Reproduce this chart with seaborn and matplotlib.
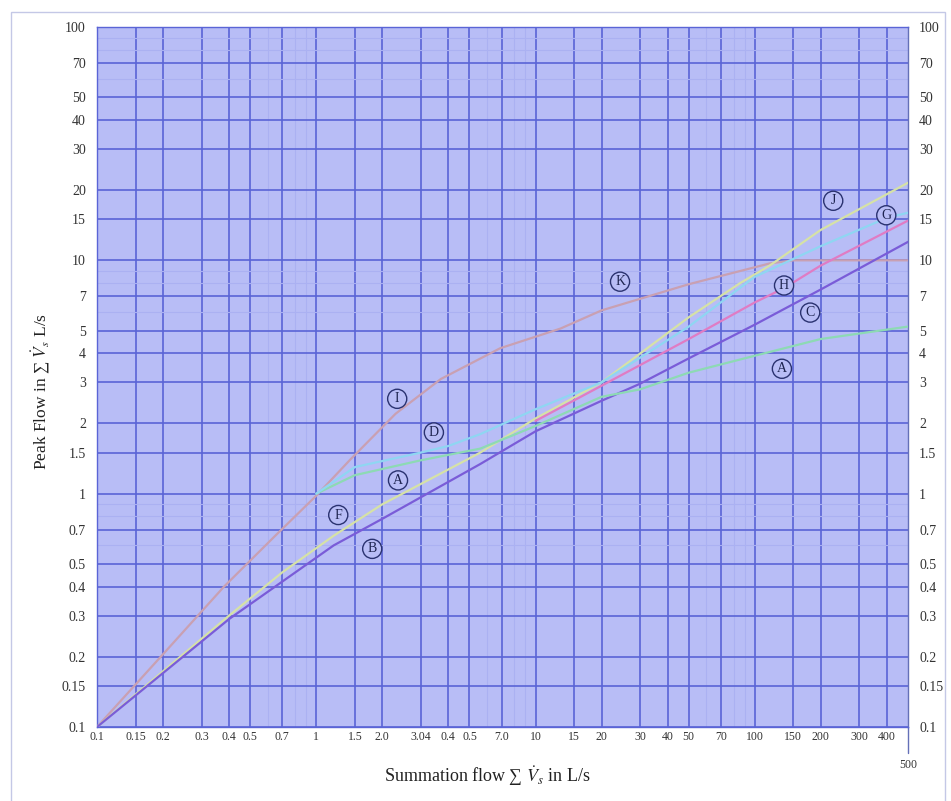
import numpy as np
import pandas as pd
import matplotlib
matplotlib.use("Agg")
import matplotlib.pyplot as plt
from matplotlib.patches import Rectangle
from matplotlib.lines import Line2D
import seaborn as sns

# ---------------- data ----------------
k_x = [0.1, 0.2, 0.38, 0.65, 1.0, 1.43, 2.3, 3.7, 6.9, 13, 20, 50, 117, 150, 500]
k_y = [0.1, 0.205, 0.4, 0.66, 0.98, 1.4, 2.2, 3.1, 4.2, 5.1, 6.1, 7.9, 9.7, 10, 10]

f_x = [0.1, 0.4, 0.7, 1.2, 2, 5.6, 10, 13, 20, 50, 86, 117, 200, 500]
f_y = [0.1, 0.3, 0.46, 0.66, 0.9, 1.5, 2.1, 2.4, 3.0, 5.7, 8.0, 9.5, 13.5, 21.5]

b_x = [0.1, 0.4, 0.7, 1.2, 2, 5.6, 10, 20, 30, 50, 100, 200, 500]
b_y = [0.1, 0.29, 0.42, 0.6, 0.78, 1.34, 1.85, 2.5, 2.96, 3.8, 5.3, 7.5, 12.0]

a_x = [1, 1.5, 3, 5.6, 10, 20, 30, 50, 100, 200, 500]
a_y = [1.0, 1.2, 1.39, 1.56, 1.95, 2.6, 2.8, 3.3, 3.9, 4.6, 5.2]

d_x = [1, 1.5, 3, 4, 5.6, 10, 20, 50, 100, 200, 400, 500]
d_y = [1.0, 1.3, 1.5, 1.6, 1.8, 2.3, 3.0, 5.2, 8.5, 11.5, 15.2, 16.0]

h_x = [10, 20, 50, 100, 136, 200, 500]
h_y = [2.05, 2.9, 4.6, 6.6, 7.6, 9.5, 14.8]

label_text = ["K", "I", "D", "A", "F", "B", "J", "G", "H", "C", "A"]
label_x = [24.3, 2.34, 3.44, 2.36, 1.26, 1.80, 228, 398, 136, 179, 133]
label_y = [8.1, 2.55, 1.83, 1.14, 0.81, 0.58, 18.0, 15.6, 7.8, 5.97, 3.43]

x_ticks = [0.1, 0.15, 0.2, 0.3, 0.4, 0.5, 0.7, 1, 1.5, 2, 3, 4, 5, 7, 10, 15, 20,
           30, 40, 50, 70, 100, 150, 200, 300, 400]
x_tick_labels = ["0.1", "0.15", "0.2", "0.3", "0.4", "0.5", "0.7", "1", "1.5", "2.0",
                 "3.04", "0.4", "0.5", "7.0", "10", "15", "20", "30", "40", "50", "70",
                 "100", "150", "200", "300", "400"]
y_ticks = [0.1, 0.15, 0.2, 0.3, 0.4, 0.5, 0.7, 1, 1.5, 2, 3, 4, 5, 7, 10, 15, 20,
           30, 40, 50, 70, 100]
y_tick_labels = ["0.1", "0.15", "0.2", "0.3", "0.4", "0.5", "0.7", "1", "1.5", "2",
                 "3", "4", "5", "7", "10", "15", "20", "30", "40", "50", "70", "100"]

series = [
    ("K", k_x, k_y, "#c9a0b2"),
    ("F", f_x, f_y, "#d6e2a6"),
    ("B", b_x, b_y, "#7a5cd8"),
    ("A", a_x, a_y, "#8ddab4"),
    ("D", d_x, d_y, "#8fd6f2"),
    ("H", h_x, h_y, "#e07cc4"),
]

# ---------------- style ----------------
sns.set_style("white")
plt.rcParams["font.family"] = ["Liberation Serif", "DejaVu Serif"]
plt.rcParams["mathtext.fontset"] = "stix"

BG = "#b8bdf6"
GRID = "#5a64d6"

fig = plt.figure(figsize=(9.51, 8.01), dpi=100)
ax = fig.add_axes([97 / 951, 1 - 727 / 801, 811 / 951, 700 / 801])
ax.set_facecolor(BG)

for name, xs, ys, col in series:
    df = pd.DataFrame({"x": xs, "y": ys})
    sns.lineplot(data=df, x="x", y="y", ax=ax, color=col, lw=1.6,
                 sort=False, estimator=None, zorder=3)

ax.set_xscale("log")
ax.set_yscale("log")
ax.set_xlim(0.1, 500)
ax.set_ylim(0.1, 100)

ax.set_xticks(x_ticks)
ax.set_xticklabels(x_tick_labels, fontsize=8.5, color="#333333")
ax.set_yticks(y_ticks)
ax.set_yticklabels(y_tick_labels, fontsize=10, color="#333333")
ax.minorticks_off()
minor = [v * m for v in [0.1, 1, 10, 100] for m in range(2, 10)]
ax.set_xticks([v for v in minor if 0.1 < v < 500 and not any(abs(v - t) < 1e-9 for t in x_ticks)], minor=True)
ax.set_yticks([v for v in minor if 0.1 < v < 100 and not any(abs(v - t) < 1e-9 for t in y_ticks)], minor=True)

ax.tick_params(axis="both", which="both", length=0)
ax.tick_params(axis="y", which="major", labelleft=True, labelright=True, pad=8)
ax.tick_params(axis="x", which="major", pad=3)
ax.grid(True, which="major", color=GRID, lw=1.2, zorder=1)
ax.grid(True, which="minor", color="#abb1f2", lw=0.8, zorder=1)
ax.set_axisbelow(True)

for s in ax.spines.values():
    s.set_color(GRID)
    s.set_linewidth(1.0)
ax.spines["right"].set_color("#6470b8")

# right spine extension and the lone "500" label
ax.add_line(Line2D([1, 1], [0, -26 / 700], transform=ax.transAxes,
                   color="#6470b8", lw=1.0, clip_on=False))
ax.text(500, -0.045, "500", transform=ax.get_xaxis_transform(), ha="center",
        va="top", fontsize=8.5, color="#333333")

# circled curve labels
for t, lx, ly in zip(label_text, label_x, label_y):
    ax.text(lx, ly, t, ha="center", va="center", fontsize=10, color="#1e2450",
            zorder=5,
            bbox=dict(boxstyle="circle,pad=0.22", fc=BG, ec="#2a3270", lw=1.0))

ax.set_xlabel("Summation flow ∑ $\\dot{V}_s$ in L/s", fontsize=13, color="#222222")
ax.set_ylabel("Peak Flow in ∑ $\\dot{V}_s$ L/s", fontsize=12.5, color="#222222")
ax.xaxis.set_label_coords((487 - 97) / 811, -(764 - 727) / 700)
ax.yaxis.set_label_coords(-45 / 811, 0.48)

# outer frame
fig.add_artist(Rectangle((11 / 951, -0.01), (945 - 11) / 951, (801 - 12) / 801 + 0.01,
                         transform=fig.transFigure, fill=False, ec="#c4c8e6", lw=1.0))

fig.savefig("out.png", dpi=100)
